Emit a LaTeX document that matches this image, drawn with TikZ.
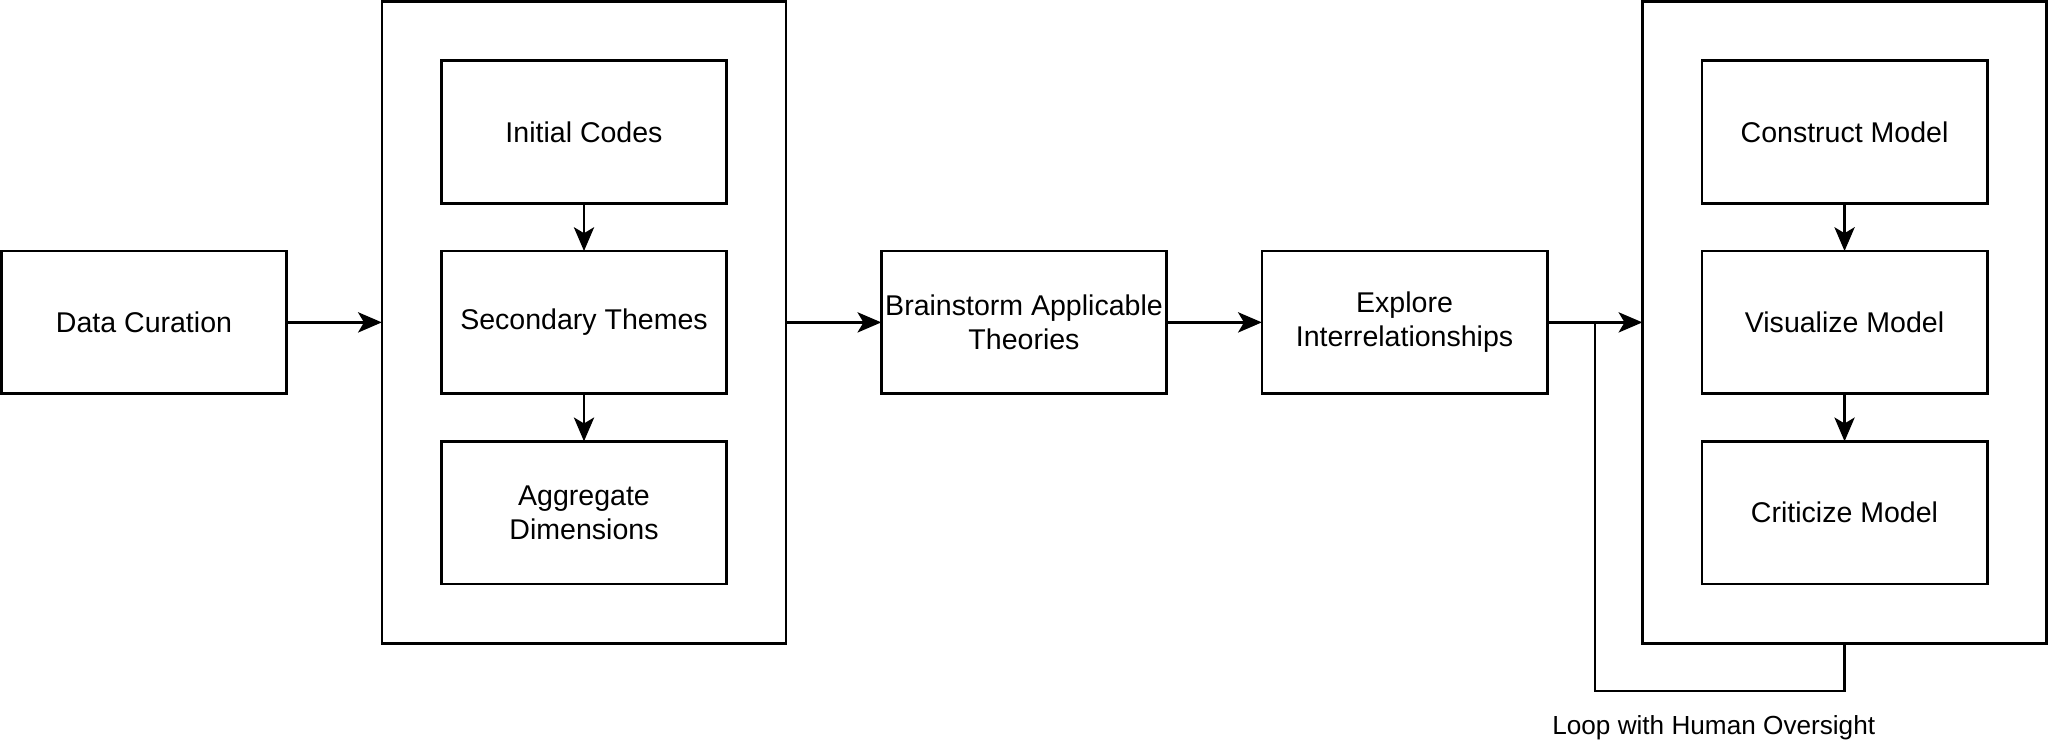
\documentclass[tikz,border=0pt]{standalone}
\usepackage{fontspec}
\setmainfont{Liberation Sans}
\usetikzlibrary{arrows.meta, positioning}

\begin{document}
\begin{tikzpicture}[x=1pt, y={(0pt,-1pt)},
      box/.style={draw, line width=1.1pt, minimum width=120pt, minimum height=60pt,
         inner sep=0pt, outer sep=0pt, align=center, font=\fontsize{12}{14.4}\selectfont},
      group/.style={draw, line width=1.1pt, minimum width=170pt, minimum height=270pt,
         inner sep=0pt, outer sep=0pt},
      link/.style={line width=1.1pt, -{Stealth[length=10pt, width=8.5pt, inset=2.5pt]}},
      feedback/.style={line width=1.1pt}]
      \useasboundingbox (-0.55,-0.55) rectangle (860.55,312.7);
      % Data curation
      \node[box] (curation) at (60,135) {Data Curation};
      % Coding group
      \node[group] (coding) at (245,135) {};
      \node[box] (initial) at (245,55) {Initial Codes};
      \node[box, below=20pt of initial] (secondary) {Secondary Themes};
      \node[box, below=20pt of secondary] (aggregate) {Aggregate\\Dimensions};
      % Theory stages
      \node[box, right=40pt of coding] (brainstorm) {Brainstorm Applicable\\Theories};
      \node[box, right=40pt of brainstorm] (explore) {Explore\\Interrelationships};
      % Modelling group
      \node[group, right=40pt of explore] (modelling) {};
      \node[box] (construct) at (775,55) {Construct Model};
      \node[box, below=20pt of construct] (visualize) {Visualize Model};
      \node[box, below=20pt of visualize] (criticize) {Criticize Model};
      % Arrows
      \draw[link] (curation) -- (coding);
      \draw[link] (initial) -- (secondary);
      \draw[link] (secondary) -- (aggregate);
      \draw[link] (coding) -- (brainstorm);
      \draw[link] (brainstorm) -- (explore);
      \draw[link] (explore) -- (modelling);
      \draw[link] (construct) -- (visualize);
      \draw[link] (visualize) -- (criticize);
      % Feedback loop
      \coordinate (loopcorner) at (670,290);
      \coordinate (joint) at (670,135);
      \draw[feedback] (modelling.south) |- (loopcorner) -- (joint);
      \node[font=\fontsize{11}{13.2}\selectfont] (looplabel) at (720,305.5) {Loop with Human Oversight};
   \end{tikzpicture}
\end{document}
